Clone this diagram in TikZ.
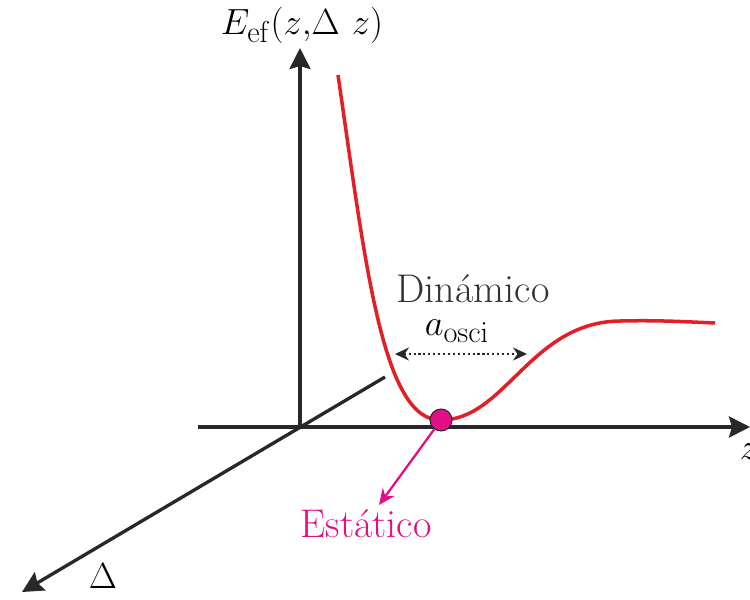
\documentclass[tikz,border=0pt]{standalone}
\usetikzlibrary{arrows.meta}
\definecolor{axisgray}{RGB}{40,40,40}
\definecolor{curvered}{RGB}{228,30,38}
\definecolor{mag}{RGB}{228,14,132}
\definecolor{txtgray}{RGB}{50,50,50}
\tikzset{
  axis/.style={draw=axisgray,line width=1.9pt,-{Stealth[length=0.42cm,width=0.42cm,inset=0.06cm]}},
  lbl/.style={font=\fontsize{22.8}{26}\selectfont,inner sep=0pt},
}
\begin{document}
\begin{tikzpicture}[x=0.02cm,y=-0.02cm]
\useasboundingbox (0,0) rectangle (750,599);
\coordinate (O) at (300,427);
\coordinate (ytip) at (300,48);
\coordinate (xstart) at (198,427);
\coordinate (xtip) at (750,427);
\coordinate (dstart) at (385,377);
\coordinate (dtip) at (22,592);
\draw[axis] (O) -- (ytip);
\draw[axis] (xstart) -- (xtip);
\draw[axis] (dstart) -- (dtip);
\node[lbl,text=black] (ylab) at (302,25) {$E_{\mathrm{ef}}(z{,}\Delta\ z)$};
\node[lbl,text=black] (zlab) at (749,452) {$z$};
\node[lbl,text=black] (dlab) at (103,576) {$\Delta$};
% curve
\draw[curvered,line width=2pt] (338,75) .. controls (365,260) and (382,420) .. (440,420)
  coordinate (min) .. controls (505,421) and (530,322) .. (620,321)
  .. controls (660,320) and (690,322) .. (715,323);
% ball
\node[circle,fill=mag,draw=axisgray,line width=0.6pt,minimum size=0.44cm,inner sep=0pt] (ball) at (441,420) {};
\coordinate (stip) at (379,505);
\draw[mag,line width=1.3pt,-{Stealth[length=0.32cm,width=0.28cm]}] (ball) -- (stip);
\node[lbl,text=mag] (est) at (366,524) {Est\'atico};
\node[lbl,text=txtgray] (din) at (473,289) {Din\'amico};
\node[lbl,text=black] (aosc) at (457,331) {$a_{\mathrm{osci}}$};
\coordinate (dl) at (395,354);
\coordinate (dr) at (527,354);
\draw[axisgray,line width=1.2pt,dash pattern=on 1.2pt off 1.6pt,{Stealth[length=0.28cm,width=0.26cm]}-{Stealth[length=0.28cm,width=0.26cm]}] (dl) -- (dr);
\end{tikzpicture}
\end{document}
